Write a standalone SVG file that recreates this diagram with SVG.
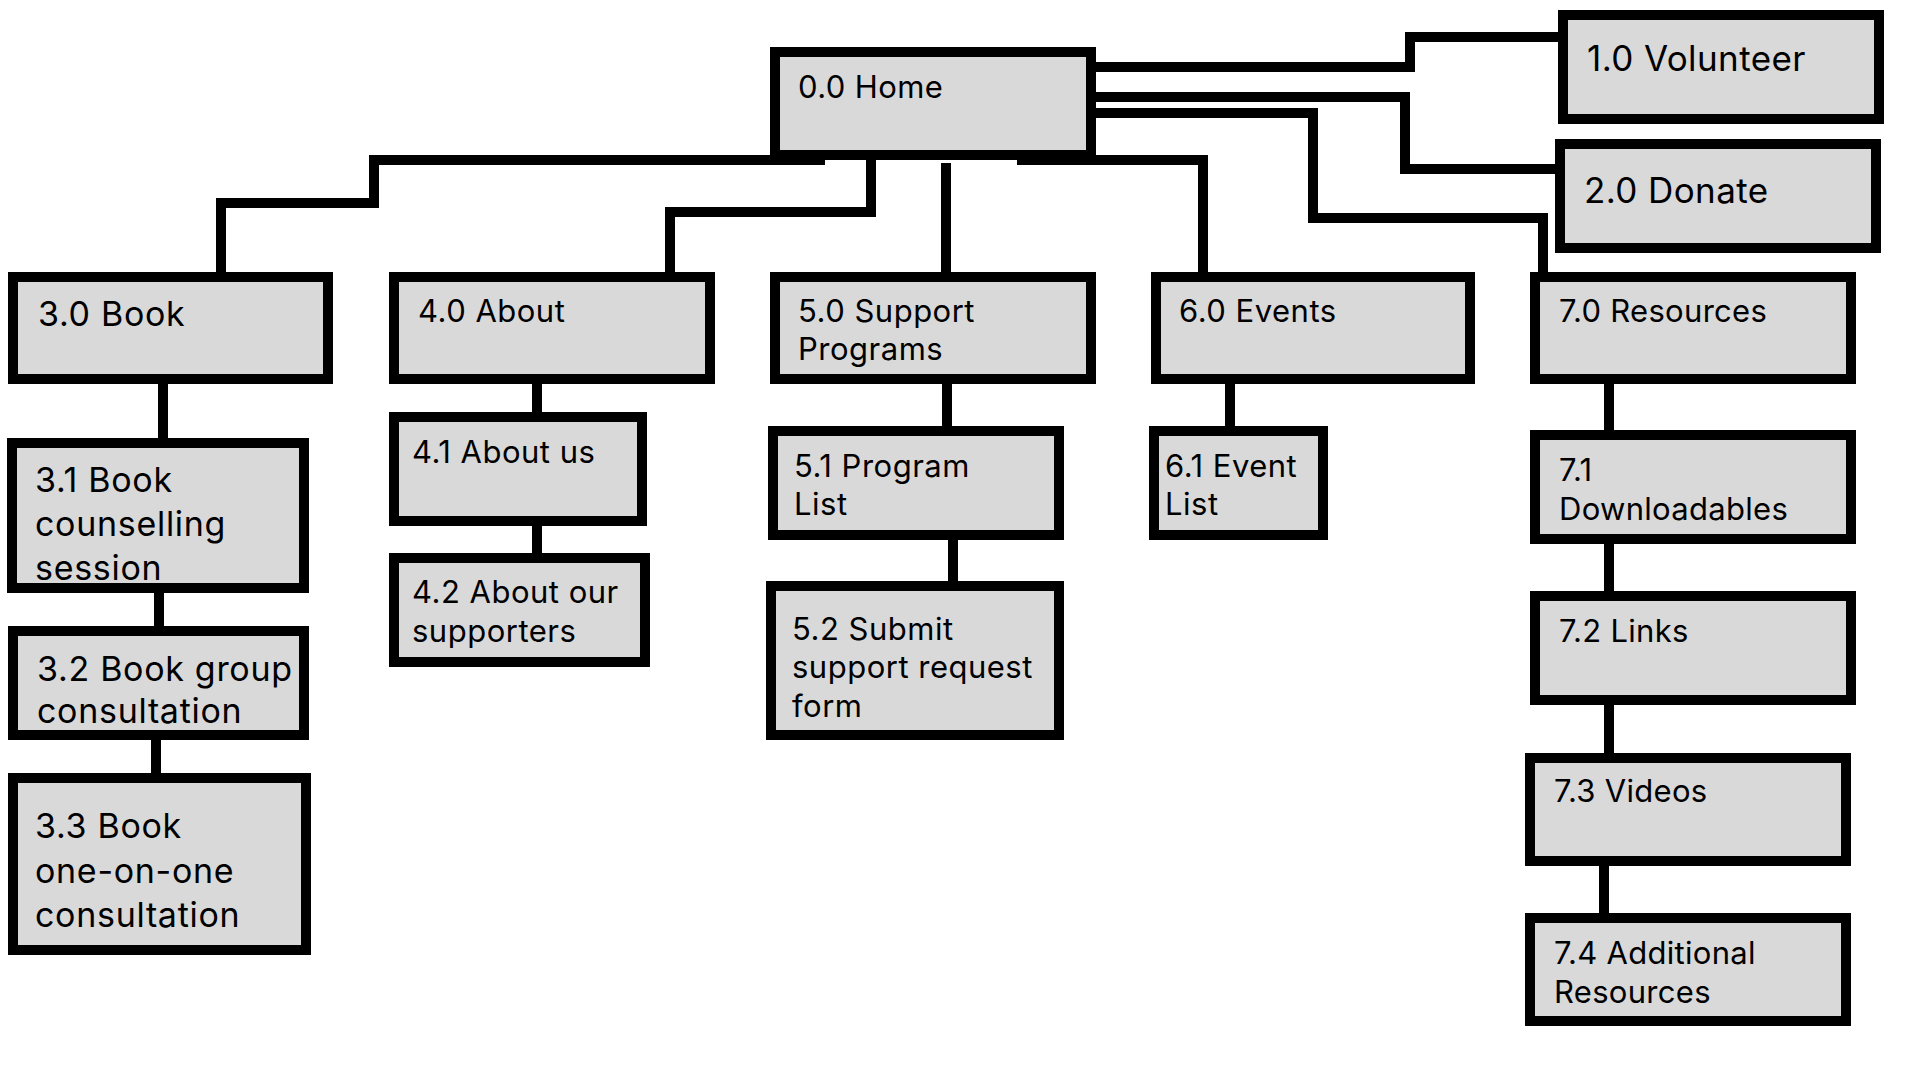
<svg xmlns="http://www.w3.org/2000/svg" width="1920" height="1080" viewBox="0 0 1920 1080">
<style>
.box{fill:#d9d9d9;stroke:#000;stroke-width:10}
.wire{fill:none;stroke:#000;stroke-width:10;stroke-linejoin:miter;stroke-linecap:butt}
text{font-family:Inter,"Noto Sans","Liberation Sans",sans-serif;fill:#000}
.t0{font-size:31px;letter-spacing:0.4px}
.t1{font-size:35px;letter-spacing:0.4px}
.t3{font-size:34px;letter-spacing:0.7px}
.t4{font-size:31px;letter-spacing:0.5px}
.t7{font-size:31px;letter-spacing:0.3px}
</style>
<rect width="1920" height="1080" fill="#fff"/>
<g id="connectors">
<path class="wire" d="M825,160 H374 V203 H221 V272"/>
<path class="wire" d="M871,160 V212 H670 V272"/>
<path class="wire" d="M946,163 V272"/>
<path class="wire" d="M1017,160 H1203 V272"/>
<path class="wire" d="M1096,67 H1410 V37 H1558"/>
<path class="wire" d="M1096,97 H1405 V169 H1555"/>
<path class="wire" d="M1096,113 H1313 V218 H1543 V272"/>
<path class="wire" d="M163,384 V438"/>
<path class="wire" d="M159,593 V626"/>
<path class="wire" d="M156,740 V773"/>
<path class="wire" d="M537,384 V412"/>
<path class="wire" d="M537,526 V553"/>
<path class="wire" d="M947,384 V426"/>
<path class="wire" d="M953,540 V581"/>
<path class="wire" d="M1230,384 V426"/>
<path class="wire" d="M1609,384 V430"/>
<path class="wire" d="M1609,544 V591"/>
<path class="wire" d="M1609,705 V753"/>
<path class="wire" d="M1604,866 V913"/>
</g>
<g id="n0"><rect class="box" x="775" y="52" width="316" height="103"/><text class="t0" x="798" y="98">0.0 Home</text></g>
<g id="n1"><rect class="box" x="1563" y="15" width="316" height="104"/><text class="t1" x="1587" y="71">1.0 Volunteer</text></g>
<g id="n2"><rect class="box" x="1560" y="144" width="316" height="104"/><text class="t1" x="1584" y="203">2.0 Donate</text></g>
<g id="n3"><rect class="box" x="13" y="277" width="315" height="102"/><text class="t3" x="38" y="326">3.0 Book</text></g>
<g id="n31"><rect class="box" x="12" y="443" width="292" height="145"/><text class="t3" x="35" y="492">3.1 Book</text><text class="t3" x="35" y="536">counselling</text><text class="t3" x="35" y="580">session</text></g>
<g id="n32"><rect class="box" x="13" y="631" width="291" height="104"/><text class="t3" x="37" y="681">3.2 Book group</text><text class="t3" x="37" y="723">consultation</text></g>
<g id="n33"><rect class="box" x="13" y="778" width="293" height="172"/><text class="t3" x="35" y="838">3.3 Book</text><text class="t3" x="35" y="883">one-on-one</text><text class="t3" x="35" y="927">consultation</text></g>
<g id="n4"><rect class="box" x="394" y="277" width="316" height="102"/><text class="t4" x="418" y="322">4.0 About</text></g>
<g id="n41"><rect class="box" x="394" y="417" width="248" height="104"/><text class="t4" x="412" y="463">4.1 About us</text></g>
<g id="n42"><rect class="box" x="394" y="558" width="251" height="104"/><text class="t4" x="412" y="603">4.2 About our</text><text class="t4" x="412" y="642">supporters</text></g>
<g id="n5"><rect class="box" x="775" y="277" width="316" height="102"/><text class="t4" x="798" y="322">5.0 Support</text><text class="t4" x="798" y="360">Programs</text></g>
<g id="n51"><rect class="box" x="773" y="431" width="286" height="104"/><text class="t4" x="794" y="477">5.1 Program</text><text class="t4" x="794" y="515">List</text></g>
<g id="n52"><rect class="box" x="771" y="586" width="288" height="149"/><text class="t4" x="792" y="640">5.2 Submit</text><text class="t4" x="792" y="678">support request</text><text class="t4" x="792" y="717">form</text></g>
<g id="n6"><rect class="box" x="1156" y="277" width="314" height="102"/><text class="t4" x="1179" y="322">6.0 Events</text></g>
<g id="n61"><rect class="box" x="1154" y="431" width="169" height="104"/><text class="t4" x="1165" y="477">6.1 Event</text><text class="t4" x="1165" y="515">List</text></g>
<g id="n7"><rect class="box" x="1535" y="277" width="316" height="102"/><text class="t7" x="1559" y="322">7.0 Resources</text></g>
<g id="n71"><rect class="box" x="1535" y="435" width="316" height="104"/><text class="t7" x="1559" y="481">7.1</text><text class="t7" x="1559" y="520">Downloadables</text></g>
<g id="n72"><rect class="box" x="1535" y="596" width="316" height="104"/><text class="t7" x="1559" y="642">7.2 Links</text></g>
<g id="n73"><rect class="box" x="1530" y="758" width="316" height="103"/><text class="t7" x="1554" y="802">7.3 Videos</text></g>
<g id="n74"><rect class="box" x="1530" y="918" width="316" height="103"/><text class="t7" x="1554" y="964">7.4 Additional</text><text class="t7" x="1554" y="1003">Resources</text></g>
</svg>
